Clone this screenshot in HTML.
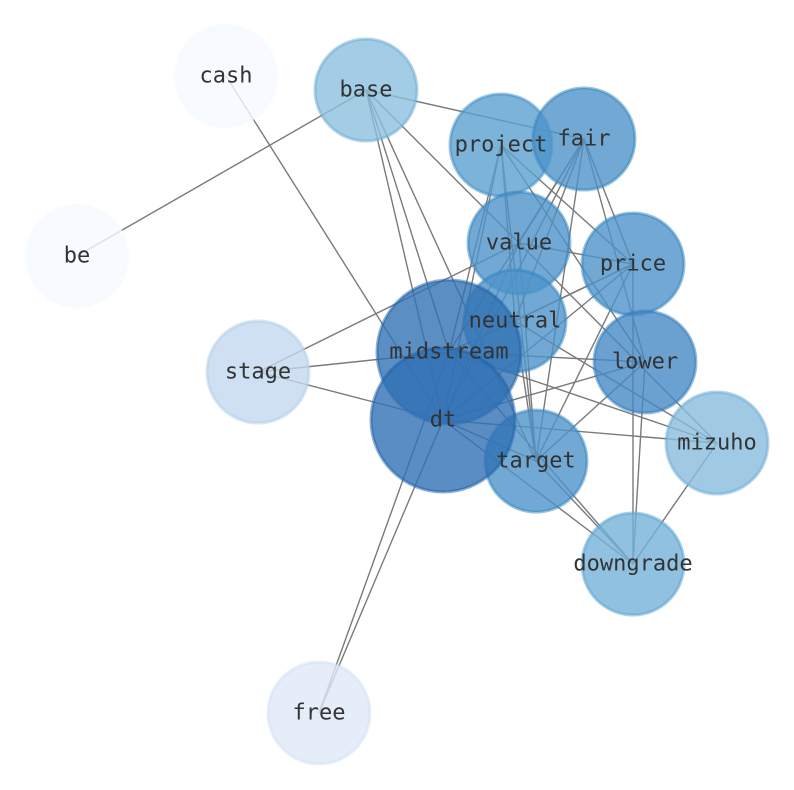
<!DOCTYPE html>
<html><head><meta charset="utf-8"><style>html,body{margin:0;padding:0;background:#fff}svg{display:block}</style></head>
<body>
<svg width="794" height="790" viewBox="0 0 794 790" xmlns="http://www.w3.org/2000/svg">
<g stroke="#7a7a7a" stroke-width="1.4" fill="none">
<line x1="226" y1="76" x2="443" y2="420"/>
<line x1="77" y1="256" x2="366" y2="90"/>
<line x1="366" y1="90" x2="584" y2="139"/>
<line x1="366" y1="90" x2="519" y2="243"/>
<line x1="366" y1="90" x2="449" y2="352"/>
<line x1="366" y1="90" x2="443" y2="420"/>
<line x1="366" y1="90" x2="536" y2="461"/>
<line x1="258" y1="372" x2="519" y2="243"/>
<line x1="258" y1="372" x2="449" y2="352"/>
<line x1="258" y1="372" x2="443" y2="420"/>
<line x1="319" y1="713" x2="449" y2="352"/>
<line x1="319" y1="713" x2="443" y2="420"/>
<line x1="501" y1="145" x2="536" y2="461"/>
<line x1="501" y1="145" x2="443" y2="420"/>
<line x1="501" y1="145" x2="633" y2="264"/>
<line x1="501" y1="145" x2="645" y2="362"/>
<line x1="501" y1="145" x2="449" y2="352"/>
<line x1="501" y1="145" x2="515" y2="321"/>
<line x1="584" y1="139" x2="443" y2="420"/>
<line x1="584" y1="139" x2="449" y2="352"/>
<line x1="584" y1="139" x2="515" y2="321"/>
<line x1="584" y1="139" x2="536" y2="461"/>
<line x1="584" y1="139" x2="633" y2="264"/>
<line x1="584" y1="139" x2="645" y2="362"/>
<line x1="584" y1="139" x2="519" y2="243"/>
<line x1="519" y1="243" x2="443" y2="420"/>
<line x1="519" y1="243" x2="536" y2="461"/>
<line x1="519" y1="243" x2="633" y2="264"/>
<line x1="519" y1="243" x2="717" y2="443"/>
<line x1="633" y1="264" x2="449" y2="352"/>
<line x1="633" y1="264" x2="443" y2="420"/>
<line x1="633" y1="264" x2="536" y2="461"/>
<line x1="633" y1="264" x2="633" y2="564"/>
<line x1="633" y1="264" x2="515" y2="321"/>
<line x1="645" y1="362" x2="443" y2="420"/>
<line x1="645" y1="362" x2="536" y2="461"/>
<line x1="645" y1="362" x2="633" y2="564"/>
<line x1="645" y1="362" x2="449" y2="352"/>
<line x1="717" y1="443" x2="449" y2="352"/>
<line x1="717" y1="443" x2="443" y2="420"/>
<line x1="717" y1="443" x2="633" y2="564"/>
<line x1="717" y1="443" x2="515" y2="321"/>
<line x1="536" y1="461" x2="443" y2="420"/>
<line x1="536" y1="461" x2="633" y2="564"/>
<line x1="536" y1="461" x2="515" y2="321"/>
<line x1="633" y1="564" x2="443" y2="420"/>
<line x1="633" y1="564" x2="449" y2="352"/>
</g>
<g stroke-width="3" fill-opacity="0.8" stroke-opacity="0.5">
<circle cx="226" cy="76" r="51" fill="#f5f9fe" stroke="#f5f9fe"/>
<circle cx="366" cy="90" r="51" fill="#8cbfde" stroke="#6aaad6"/>
<circle cx="77" cy="256" r="51" fill="#f5f9fe" stroke="#f5f9fe"/>
<circle cx="258" cy="372" r="51" fill="#c2d8ed" stroke="#b0cde8"/>
<circle cx="319" cy="713" r="51" fill="#dfe9f6" stroke="#d2e1f2"/>
<circle cx="501" cy="145" r="51" fill="#5aa0d0" stroke="#3d8bc6"/>
<circle cx="584" cy="139" r="51" fill="#4e94c9" stroke="#3283be"/>
<circle cx="519" cy="243" r="51" fill="#4e94c9" stroke="#3283be"/>
<circle cx="633" cy="264" r="51" fill="#4e94c9" stroke="#3283be"/>
<circle cx="515" cy="321" r="51" fill="#4e94c9" stroke="#3283be"/>
<circle cx="645" cy="362" r="51" fill="#4689c4" stroke="#2f7aba"/>
<circle cx="717" cy="443" r="51" fill="#88bddd" stroke="#6aaad6"/>
<circle cx="633" cy="564" r="51" fill="#76b2da" stroke="#5aa0d0"/>
<circle cx="536" cy="461" r="51" fill="#4e94c9" stroke="#3283be"/>
<circle cx="449" cy="352" r="72" fill="#3272b3" stroke="#1f5fa6"/>
<circle cx="443" cy="420" r="72" fill="#3070b4" stroke="#1f5fa6"/>
</g>
<g font-family="DejaVu Sans Mono, Liberation Mono, monospace" font-size="22" fill="#333" text-anchor="middle" dominant-baseline="central">
<text x="226" y="76">cash</text>
<text x="366" y="90">base</text>
<text x="77" y="256">be</text>
<text x="258" y="372">stage</text>
<text x="319" y="713">free</text>
<text x="501" y="145">project</text>
<text x="584" y="139">fair</text>
<text x="519" y="243">value</text>
<text x="633" y="264">price</text>
<text x="515" y="321">neutral</text>
<text x="645" y="362">lower</text>
<text x="717" y="443">mizuho</text>
<text x="633" y="564">downgrade</text>
<text x="536" y="461">target</text>
<text x="449" y="352">midstream</text>
<text x="443" y="420">dt</text>
</g>
</svg>
</body></html>
